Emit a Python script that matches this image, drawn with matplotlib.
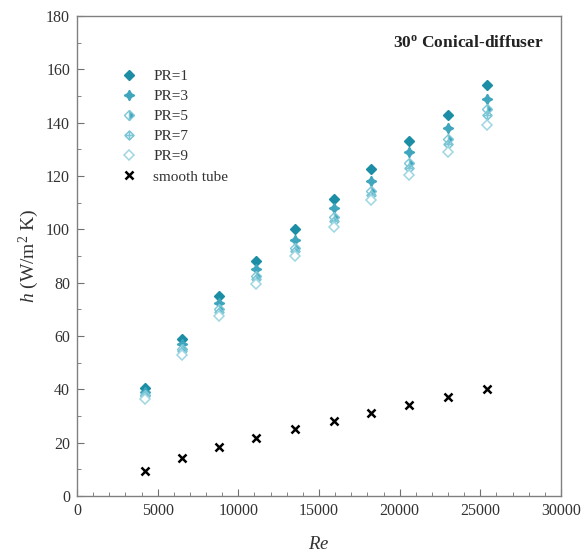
import matplotlib
matplotlib.use("Agg")
import matplotlib.pyplot as plt
from matplotlib.path import Path
from matplotlib.ticker import MultipleLocator

plt.rcParams["font.family"] = ["Liberation Serif", "DejaVu Serif"]
plt.rcParams["mathtext.fontset"] = "custom"
plt.rcParams["mathtext.rm"] = "Liberation Serif"
plt.rcParams["mathtext.it"] = "Liberation Serif:italic"
plt.rcParams["mathtext.bf"] = "Liberation Serif:bold"

# === DATA ===
re = [4200, 6500, 8800, 11100, 13500, 15900, 18200, 20600, 23000, 25400]
h_pr1 = [40.5, 59, 75, 88, 100, 111.5, 122.5, 133, 143, 154]
h_pr3 = [39, 57, 72.5, 85, 96, 108, 118, 129, 138, 149]
h_pr5 = [38, 55, 70, 82.5, 93, 104.5, 114.5, 125, 134, 145]
h_pr7 = [37.5, 54.5, 69, 81.5, 92, 103, 113, 123, 132, 143]
h_pr9 = [36.5, 53, 67.5, 79.5, 90, 101, 111, 120.5, 129, 139]
h_smooth = [9.5, 14.2, 18.2, 21.8, 25, 28, 31, 34, 37, 40]
labels = ["PR=1", "PR=3", "PR=5", "PR=7", "PR=9", "smooth tube"]

DARK = "#1b8ea6"
MID = "#3fa6bd"
LIGHT = "#7cc6d6"
PALE = "#9fd6e2"

# diamond with a cross inside
diamond_cross = Path(
    [(0, 1), (1, 0), (0, -1), (-1, 0), (0, 1), (0, 1), (0, -1), (-1, 0), (1, 0)],
    [Path.MOVETO, Path.LINETO, Path.LINETO, Path.LINETO, Path.CLOSEPOLY,
     Path.MOVETO, Path.LINETO, Path.MOVETO, Path.LINETO],
)

fig = plt.figure(figsize=(5.88, 5.56), dpi=100)
ax = fig.add_axes([0.131, 0.108, 0.823, 0.863])

ax.plot(re, h_pr1, ls="none", marker="D", ms=5.5, color=DARK, mec=DARK, label=labels[0])
ax.plot(re, h_pr3, ls="none", marker=(4, 1, 0), ms=7.5, color=MID, mec=MID, label=labels[1])
ax.plot(re, h_pr5, ls="none", marker="D", ms=5.5, fillstyle="right", color=MID,
        markerfacecoloralt="white", mec=LIGHT, mew=1, label=labels[2])
ax.plot(re, h_pr7, ls="none", marker=diamond_cross, ms=6.5, color=LIGHT, mfc="none",
        mew=1.1, label=labels[3])
ax.plot(re, h_pr9, ls="none", marker="D", ms=5.5, color=PALE, mfc="white", mew=1.1,
        label=labels[4])
ax.plot(re, h_smooth, ls="none", marker="x", ms=5.5, color="black", mew=1.8, label=labels[5])

ax.set_xlim(0, 30000)
ax.set_ylim(0, 180)
ax.xaxis.set_major_locator(MultipleLocator(5000))
ax.xaxis.set_minor_locator(MultipleLocator(1000))
ax.yaxis.set_major_locator(MultipleLocator(20))
ax.yaxis.set_minor_locator(MultipleLocator(10))
ax.tick_params(which="both", direction="in", colors="#707070", labelcolor="#333333",
               labelsize=11.5, top=False, right=False)
ax.tick_params(which="major", length=5, pad=5)
ax.tick_params(which="minor", length=3)
for sp in ax.spines.values():
    sp.set_color("#808080")
    sp.set_linewidth(1.0)

ax.set_xlabel(r"$\it{Re}$", fontsize=13.5, color="#333333", labelpad=12)
ax.set_ylabel(r"$\it{h}$ (W/m$^2$ K)", fontsize=14, color="#333333", labelpad=4)

ax.text(0.965, 0.945, r"30$^\mathbf{o}$ Conical-diffuser", transform=ax.transAxes,
        ha="right", va="center", fontsize=12.5, fontweight="bold", color="#222222")

leg = ax.legend(loc="upper left", bbox_to_anchor=(0.075, 0.902), frameon=False,
                fontsize=11, handlelength=1.2, handletextpad=1.0, labelspacing=0.42,
                borderaxespad=0)
for t in leg.get_texts():
    t.set_color("#333333")

fig.savefig("out.png", dpi=100, facecolor="white")
